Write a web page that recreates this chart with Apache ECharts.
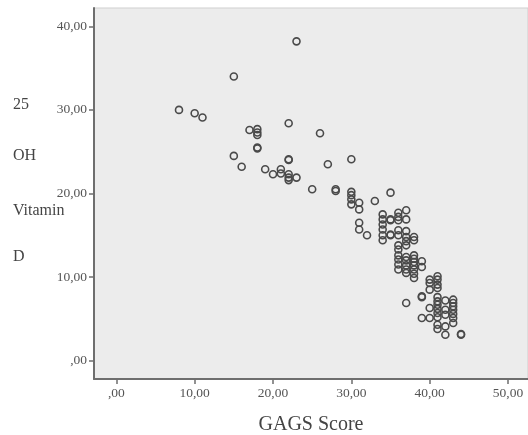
<!DOCTYPE html>
<html>
<head>
<meta charset="utf-8">
<script src="https://cdn.jsdelivr.net/npm/echarts@6/dist/echarts.min.js"></script>
<style>
html,body{margin:0;padding:0;background:#fff;}
#chart{width:528px;height:435px;}
</style>
</head>
<body>
<div id="chart"></div>
<script>
// GAGS score columns and the 25 OH Vitamin D values observed at each score
const gagsScores = [8, 10, 11, 15, 16, 17, 18, 19, 20, 21, 22, 23, 25, 26, 27, 28, 30, 31, 32, 33, 34, 35, 36, 37, 38, 39, 40, 41, 42, 43, 44];
const vitaminDByScore = [
  [30.0],
  [29.6],
  [29.1],
  [34.0, 24.5],
  [23.2],
  [27.6],
  [27.7, 27.3, 27.0, 25.5, 25.4],
  [22.9],
  [22.3],
  [22.9, 22.4],
  [28.4, 24.1, 24.0, 22.3, 21.9, 21.6],
  [38.2, 21.9],
  [20.5],
  [27.2],
  [23.5],
  [20.5, 20.3],
  [24.1, 20.2, 19.8, 19.3, 18.7],
  [18.9, 18.1, 16.5, 15.7],
  [15.0],
  [19.1],
  [17.5, 16.9, 16.3, 15.7, 15.0, 14.4],
  [20.1, 16.9, 16.8, 15.0, 15.1],
  [17.7, 17.2, 16.8, 15.6, 15.0, 13.8, 13.3, 12.6, 12.1, 11.5, 10.9],
  [18.0, 16.9, 15.5, 14.8, 14.3, 13.8, 12.4, 12.0, 11.4, 10.9, 10.5, 6.9],
  [14.8, 14.4, 12.6, 12.2, 11.8, 11.4, 10.9, 10.4, 9.9],
  [11.9, 11.2, 7.7, 7.6, 5.1],
  [9.7, 9.3, 8.5, 6.3, 5.1],
  [10.1, 9.7, 9.1, 8.7, 7.6, 7.1, 6.7, 6.2, 5.7, 5.2, 4.3, 3.8],
  [7.2, 6.1, 5.5, 4.1, 3.1],
  [7.3, 6.9, 6.5, 6.1, 5.6, 5.1, 4.5],
  [3.2, 3.1]
];
const xTickValues = [0, 10, 20, 30, 40, 50];
const yTickValues = [0, 10, 20, 30, 40];
const xTitle = 'GAGS Score';
const yTitleLines = ['25', 'OH', 'Vitamin', 'D'];

const points = [];
gagsScores.forEach((s, i) => {
  vitaminDByScore[i].forEach(v => points.push([s, v]));
});

function fmt(v) {
  return v === 0 ? ',00' : v + ',00';
}

const serif = '"Liberation Serif", "DejaVu Serif", serif';
const chart = echarts.init(document.getElementById('chart'), null, {renderer: 'canvas'});

const yTitleY = [106, 157, 212, 258];

chart.setOption({
  backgroundColor: '#ffffff',
  animation: false,
  grid: {
    left: 94, top: 8, right: 0, bottom: 56,
    outerBoundsMode: 'none',
    containLabel: false,
    show: true, backgroundColor: '#ececec', borderColor: '#cfcfcf', borderWidth: 1
  },
  xAxis: {
    type: 'value',
    min: -2.85, max: 52.55,
    splitLine: {show: false},
    axisLine: {show: true, onZero: false, lineStyle: {color: '#6e6e6e', width: 2}},
    axisTick: {show: true, length: 5, customValues: xTickValues, lineStyle: {color: '#6e6e6e', width: 1.5}},
    axisLabel: {customValues: xTickValues, formatter: fmt, fontFamily: serif, fontSize: 13.5, color: '#555', margin: 7},
    name: xTitle,
    nameLocation: 'middle',
    nameGap: 36,
    nameTextStyle: {fontFamily: serif, fontSize: 20, color: '#444'}
  },
  yAxis: {
    type: 'value',
    min: -2.19, max: 42.19,
    splitLine: {show: false},
    axisLine: {show: true, onZero: false, lineStyle: {color: '#6e6e6e', width: 2}},
    axisTick: {show: true, length: 5, customValues: yTickValues, lineStyle: {color: '#6e6e6e', width: 1.5}},
    axisLabel: {customValues: yTickValues, formatter: fmt, fontFamily: serif, fontSize: 13.5, color: '#555', margin: 7}
  },
  graphic: yTitleLines.map((t, i) => ({
    type: 'text',
    left: 13,
    top: yTitleY[i] - 9,
    style: {text: t, fontFamily: serif, fontSize: 16, fill: '#444'}
  })),
  series: [{
    type: 'scatter',
    data: points,
    symbol: 'circle',
    symbolSize: 7,
    itemStyle: {color: 'rgba(255,255,255,0)', borderColor: '#4a4a4a', borderWidth: 1.6, opacity: 1}
  }]
});
</script>
</body>
</html>
